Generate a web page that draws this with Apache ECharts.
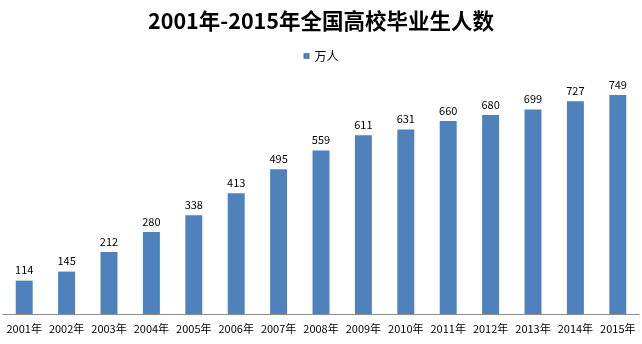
<!DOCTYPE html>
<html><head><meta charset="utf-8">
<script src="https://cdn.jsdelivr.net/npm/echarts@6/dist/echarts.min.js"></script>
<style>html,body{margin:0;padding:0;background:#fff}#c{width:642px;height:344px}</style>
</head><body><div id="c"></div>
<script>
const categories = ['2001年','2002年','2003年','2004年','2005年','2006年','2007年','2008年','2009年','2010年','2011年','2012年','2013年','2014年','2015年'];
const values = [114,145,212,280,338,413,495,559,611,631,660,680,699,727,749];
const seriesName = '万人';
const titleText = '2001年-2015年全国高校毕业生人数';
const font = '"Noto Sans CJK SC","Noto Sans",sans-serif';
const chart = echarts.init(document.getElementById('c'));
chart.setOption({
  animation:false,
  backgroundColor:'#fff',
  title:{text:titleText,left:'center',top:5,textStyle:{fontFamily:font,fontSize:21.5,fontWeight:'bold',color:'#000'}},
  legend:{data:[seriesName],top:45,left:'center',icon:'rect',itemWidth:6,itemHeight:6,itemGap:4,textStyle:{fontFamily:font,fontSize:12,color:'#000'}},
  grid:{left:3,right:3,top:80,bottom:30,containLabel:false},
  xAxis:{type:'category',data:categories,axisLine:{lineStyle:{color:'#8c8c8c'}},axisTick:{show:false},
    axisLabel:{interval:0,color:'#000',fontFamily:font,fontSize:11,margin:9}},
  yAxis:{type:'value',min:0,max:800,show:false,splitLine:{show:false}},
  series:[{name:seriesName,type:'bar',data:values,barWidth:'40%',itemStyle:{color:'#4f81bd'},
    label:{show:true,position:'top',color:'#000',fontFamily:font,fontSize:11,distance:5}}]
});
</script></body></html>
